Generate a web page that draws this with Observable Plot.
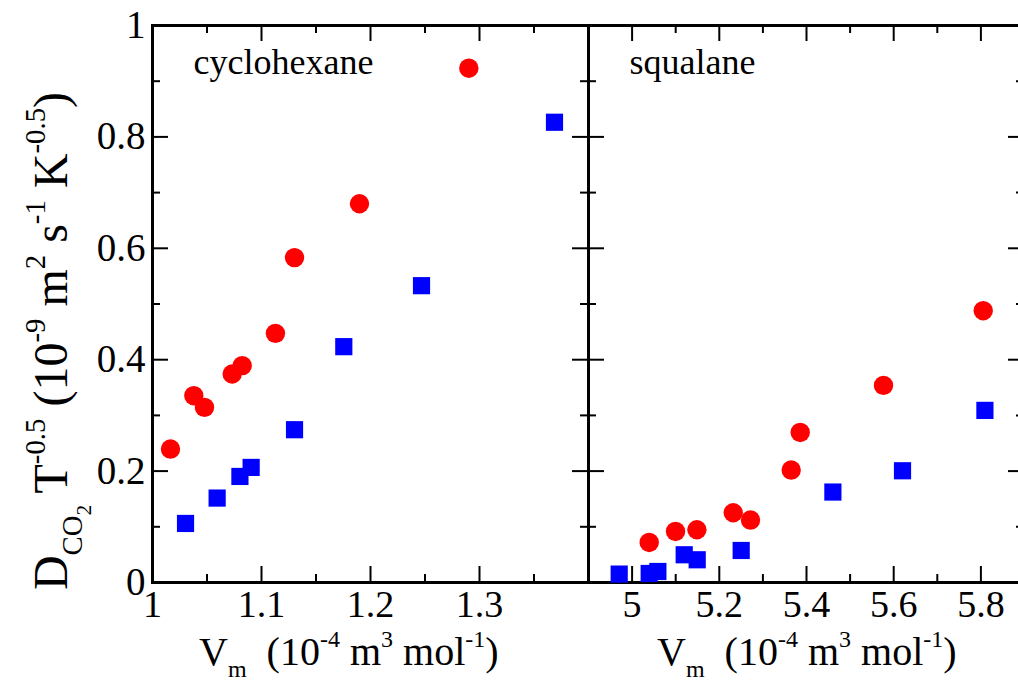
<!DOCTYPE html>
<html>
<head>
<meta charset="utf-8">
<script src="https://cdn.jsdelivr.net/npm/d3@7"></script>
<script src="https://cdn.jsdelivr.net/npm/@observablehq/plot@0.6"></script>
<style>
  html, body { margin: 0; padding: 0; background: #ffffff; }
  #wrap { position: relative; width: 1018px; height: 684px; overflow: hidden; background: #ffffff; }
  #wrap svg { position: absolute; top: 0; max-width: none; }
</style>
</head>
<body>
<div id="wrap"></div>
<script>
// ---------- data ----------
const panelNames = ["cyclohexane", "squalane"];

// cyclohexane: red circles and blue squares (Vm, D T^-0.5)
const cycloRedVm = [1.0165, 1.0379, 1.0477, 1.0731, 1.0823, 1.1128, 1.1303, 1.1899, 1.2902];
const cycloRedD  = [0.2396, 0.3354, 0.3144, 0.3743, 0.3893, 0.4473, 0.5833, 0.6800, 0.9233];
const cycloBlueVm = [1.0303, 1.0593, 1.0802, 1.0905, 1.1303, 1.1755, 1.2468, 1.3688];
const cycloBlueD  = [0.1060, 0.1516, 0.1904, 0.2066, 0.2743, 0.4234, 0.5329, 0.8263];

// squalane
const squalRedVm = [5.0392, 5.0996, 5.1486, 5.2319, 5.2716, 5.3649, 5.3856, 5.5766, 5.8053];
const squalRedD  = [0.0719, 0.0916, 0.0947, 0.1252, 0.1121, 0.2019, 0.2694, 0.3539, 0.4880];
const squalBlueVm = [4.9704, 5.0392, 5.0591, 5.1195, 5.1493, 5.2502, 5.4605, 5.6202, 5.8092];
const squalBlueD  = [0.0151, 0.0162, 0.0198, 0.0498, 0.0408, 0.0575, 0.1624, 0.2006, 0.3090];

// axes
const yDomain = [0, 1];
const yMajor = [0, 0.2, 0.4, 0.6, 0.8, 1];
const yMajorLabels = ["0", "0.2", "0.4", "0.6", "0.8", "1"];
const yMinor = [0.1, 0.3, 0.5, 0.7, 0.9];

const xDomainL = [1, 1.4];
const xMajorL = [1, 1.1, 1.2, 1.3];
const xMajorLabelsL = ["1", "1.1", "1.2", "1.3"];
const xMinorL = [1.05, 1.15, 1.25, 1.35];

const xDomainR = [4.9, 5.9];
const xMajorR = [5, 5.2, 5.4, 5.6, 5.8];
const xMajorLabelsR = ["5", "5.2", "5.4", "5.6", "5.8"];
const xMinorR = [5.1, 5.3, 5.5, 5.7];

const xLabelParts = [["V", ""], ["m", "sub"], ["  (10", ""], ["-4", "sup"], [" m", ""], ["3", "sup"], [" mol", ""], ["-1", "sup"], [")", ""]];
const yLabelParts = [["D", ""], ["CO", "sub"], ["2", "sub2"], [" T", ""], ["-0.5", "sup"], [" (10", ""], ["-9", "sup"], [" m", ""], ["2", "sup"], [" s", ""], ["-1", "sup"], [" K", ""], ["-0.5", "sup"], [")", ""]];

// ---------- layout / style ----------
const FONT = "'Liberation Serif', 'Times New Roman', serif";
const RED = "#ff0000", BLUE = "#0000ff";
const H = 684, MT = 25, MB = 102;
const PH = H - MT - MB;       // plot area height
const PW = 436;               // plot area width
const MAJ = 16, MIN = 8;

const zip = (xs, ys) => xs.map((x, i) => ({x, y: ys[i]}));
const idx = (arr) => arr.map((v, i) => ({v, i}));

function tickMarks(xMaj, xMin) {
  return [
    Plot.ruleX(xMaj, {insetTop: PH - MAJ, stroke: "black", strokeWidth: 2}),
    Plot.ruleX(xMin, {insetTop: PH - MIN, stroke: "black", strokeWidth: 2}),
    Plot.ruleX(xMaj, {insetBottom: PH - MAJ, stroke: "black", strokeWidth: 2}),
    Plot.ruleX(xMin, {insetBottom: PH - MIN, stroke: "black", strokeWidth: 2}),
    Plot.ruleY(yMajor, {insetRight: PW - MAJ, stroke: "black", strokeWidth: 2}),
    Plot.ruleY(yMinor, {insetRight: PW - MIN, stroke: "black", strokeWidth: 2}),
    Plot.ruleY(yMajor, {insetLeft: PW - MAJ, stroke: "black", strokeWidth: 2}),
    Plot.ruleY(yMinor, {insetLeft: PW - MIN, stroke: "black", strokeWidth: 2})
  ];
}

function panel({xDomain, xMaj, xMin, xLabels, red, blue, name, marginLeft, width, yLabels}) {
  const marks = [
    ...tickMarks(xMaj, xMin),
    Plot.frame({stroke: "black", strokeWidth: 3}),
    Plot.dot(red, {x: "x", y: "y", r: 9.7, fill: RED, symbol: "circle"}),
    Plot.dot(blue, {x: "x", y: "y", r: 9.7, fill: BLUE, symbol: "square"}),
    Plot.text([name], {frameAnchor: "top-left", dx: 41, dy: 48, textAnchor: "start", lineAnchor: "bottom", fontSize: 36, fill: "black"}),
    Plot.text(idx(xMaj), {x: d => d.v, text: d => xLabels[d.i], frameAnchor: "bottom", dy: 34, lineAnchor: "bottom", fontSize: 38, fill: "black"})
  ];
  if (yLabels) {
    marks.push(Plot.text(idx(yMajor), {y: d => d.v, text: d => yLabels[d.i], frameAnchor: "left", dx: -7, textAnchor: "end", lineAnchor: "middle", fontSize: 39, fill: "black"}));
  }
  return Plot.plot({
    width, height: H,
    marginLeft, marginRight: 12, marginTop: MT, marginBottom: MB,
    x: {domain: xDomain, axis: null},
    y: {domain: yDomain, axis: null},
    style: {fontFamily: FONT, background: "transparent", overflow: "visible"},
    marks
  });
}

function richText(sel, parts, size, subShift) {
  let cur = 0;
  for (const [t, kind] of parts) {
    const off = kind === "sup" ? -0.45 * size : kind === "sub" ? subShift * size : kind === "sub2" ? 0.5 * size : 0;
    const fs = kind === "" ? size : kind === "sub2" ? size * 0.45 : size * 0.6;
    sel.append("tspan").attr("dy", off - cur).attr("font-size", fs).text(t);
    cur = off;
  }
}

const wrap = document.getElementById("wrap");

const left = panel({
  xDomain: xDomainL, xMaj: xMajorL, xMin: xMinorL, xLabels: xMajorLabelsL,
  red: zip(cycloRedVm, cycloRedD), blue: zip(cycloBlueVm, cycloBlueD),
  name: panelNames[0], marginLeft: 152, width: 152 + PW + 12, yLabels: yMajorLabels
});
left.style.left = "0px";

const rightOffset = 152 + PW - 12;
const right = panel({
  xDomain: xDomainR, xMaj: xMajorR, xMin: xMinorR, xLabels: xMajorLabelsR,
  red: zip(squalRedVm, squalRedD), blue: zip(squalBlueVm, squalBlueD),
  name: panelNames[1], marginLeft: 12, width: 12 + PW + 12, yLabels: null
});
right.style.left = rightOffset + "px";

wrap.appendChild(left);
wrap.appendChild(right);

// axis titles with sub/superscripts
const ls = d3.select(left), rs = d3.select(right);
const xl = ls.append("text").attr("x", 199).attr("y", 665).attr("font-size", 40)
  .attr("text-anchor", "start").attr("font-family", FONT).attr("fill", "black").style("white-space", "pre");
richText(xl, xLabelParts, 40, 0.3);
const xr = rs.append("text").attr("x", 657 - rightOffset).attr("y", 665).attr("font-size", 40)
  .attr("text-anchor", "start").attr("font-family", FONT).attr("fill", "black").style("white-space", "pre");
richText(xr, xLabelParts, 40, 0.3);
const yl = ls.append("text").attr("transform", "translate(67,341) rotate(-90)")
  .attr("text-anchor", "middle").attr("font-size", 48)
  .attr("font-family", FONT).attr("fill", "black").style("white-space", "pre");
richText(yl, yLabelParts, 48, 0.32);
</script>
</body>
</html>
